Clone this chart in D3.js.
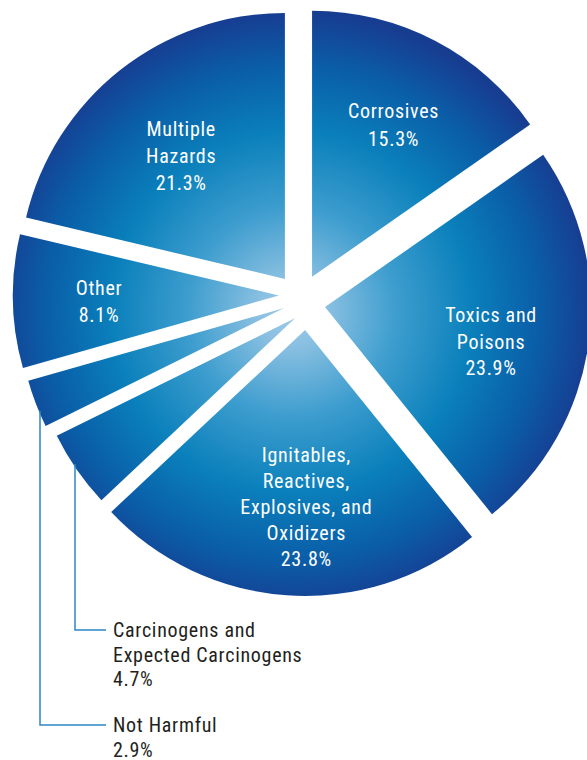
<!DOCTYPE html>
<html>
<head>
<meta charset="utf-8">
<script src="https://cdn.jsdelivr.net/npm/d3@7"></script>
<style>
  html, body { margin: 0; padding: 0; background: #fff; }
  svg { display: block; }
  .lbl { font-family: "Roboto Condensed", "Liberation Sans Narrow", "DejaVu Sans Condensed", sans-serif; font-size: 20px; letter-spacing: 0.7px; }
</style>
</head>
<body>
<svg id="chart" width="587" height="760"></svg>
<script>
// Hazard categories, clockwise from twelve o'clock
const categories = [
  "Corrosives",
  "Toxics and Poisons",
  "Ignitables, Reactives, Explosives, and Oxidizers",
  "Carcinogens and Expected Carcinogens",
  "Not Harmful",
  "Other",
  "Multiple Hazards"
];
// Share of each category, percent
const shares = [15.3, 23.9, 23.8, 4.7, 2.9, 8.1, 21.3];
// Text lines for each label (value line appended when drawn)
const labelLines = [
  ["Corrosives"],
  ["Toxics and", "Poisons"],
  ["Ignitables,", "Reactives,", "Explosives, and", "Oxidizers"],
  ["Carcinogens and", "Expected Carcinogens"],
  ["Not Harmful"],
  ["Other"],
  ["Multiple", "Hazards"]
];
// Slices whose labels sit outside with leader lines
const outsideLabels = ["Carcinogens and Expected Carcinogens", "Not Harmful"];

// ---- layout / style ----
const cx = 300, cy = 302, R = 266;
// each wedge is pulled away from the hub: along its bisector, and a little sideways
const explodeAlong  = [28, 25.5, 27.5, 13, 17, 21, 27.5];
const explodeAcross = [-1, 1.5, -7, -10.5, 0, 7, 2.5];
const gradCenter = [292, 312], gradR = 300;
const labelR = 198;                                  // label distance from the hub
const labelNudge = [[2, -1], [-5, 12], [20, 7], [0, 0], [0, 0], [-3, -5], [4, 9]];
const lineH = [28, 26.5, 26, 0, 0, 27, 27];
const leaderX = { "Carcinogens and Expected Carcinogens": 75, "Not Harmful": 40 };
const leaderY = { "Carcinogens and Expected Carcinogens": 630, "Not Harmful": 725 };
const leaderEndX = 106, outsideTextX = 113, outsideLineH = 24.5;

const svg = d3.select("#chart");
const defs = svg.append("defs");
const stops = [
  [0.00, "#a0cce8"],
  [0.12, "#88bfe1"],
  [0.35, "#3d9dce"],
  [0.60, "#0a80bb"],
  [0.82, "#0a5ea8"],
  [1.00, "#173d91"]
];

const pie = d3.pie().sort(null).value(d => d)(shares);
const arc = d3.arc().innerRadius(0).outerRadius(R);

const slices = pie.map((p, i) => {
  const mid = (p.startAngle + p.endAngle) / 2;
  const ux = Math.sin(mid), uy = -Math.cos(mid);   // outward
  const vx = Math.cos(mid), vy = Math.sin(mid);    // clockwise sideways
  return {
    p, i, mid,
    ox: cx + explodeAlong[i] * ux + explodeAcross[i] * vx,
    oy: cy + explodeAlong[i] * uy + explodeAcross[i] * vy
  };
});

// one radial gradient per wedge, all anchored to the same page point
slices.forEach(s => {
  const gr = defs.append("radialGradient")
    .attr("id", "blueFill" + s.i)
    .attr("gradientUnits", "userSpaceOnUse")
    .attr("cx", gradCenter[0] - s.ox).attr("cy", gradCenter[1] - s.oy)
    .attr("r", gradR);
  stops.forEach(([o, c]) => gr.append("stop").attr("offset", o).attr("stop-color", c));
});

svg.append("g")
  .selectAll("path.slice")
  .data(slices)
  .join("path")
  .attr("class", "slice")
  .attr("d", s => arc(s.p))
  .attr("transform", s => `translate(${s.ox},${s.oy})`)
  .attr("fill", s => `url(#blueFill${s.i})`);

const pct = v => d3.format(".1f")(v) + "%";

// inside labels
slices.forEach(s => {
  const name = categories[s.i];
  if (outsideLabels.includes(name)) return;
  const lx = cx + labelR * Math.sin(s.mid) + labelNudge[s.i][0];
  const ly = cy - labelR * Math.cos(s.mid) + labelNudge[s.i][1];
  const lines = labelLines[s.i].concat([pct(shares[s.i])]);
  const lh = lineH[s.i];
  const first = ly - (lines.length - 1) * lh / 2 + 7;
  const t = svg.append("text").attr("class", "lbl").attr("fill", "#fff")
    .attr("text-anchor", "middle");
  lines.forEach((ln, k) => {
    t.append("tspan").attr("x", lx).attr("y", first + k * lh).text(ln);
  });
});

// outside labels with leader lines dropping from the wedge rim
slices.forEach(s => {
  const name = categories[s.i];
  if (!outsideLabels.includes(name)) return;
  const x = leaderX[name];
  const dx = x - s.ox;
  const yRim = s.oy + Math.sqrt(Math.max(0, R * R - dx * dx));
  const yTurn = leaderY[name];
  svg.append("path")
    .attr("d", `M${x},${yRim - 3}V${yTurn}H${leaderEndX}`)
    .attr("fill", "none")
    .attr("stroke", "#2b86c4")
    .attr("stroke-width", 1.5);
  const lines = labelLines[s.i].concat([pct(shares[s.i])]);
  const t = svg.append("text").attr("class", "lbl").attr("fill", "#231f20");
  lines.forEach((ln, k) => {
    t.append("tspan").attr("x", outsideTextX).attr("y", yTurn + 7 + k * outsideLineH).text(ln);
  });
});
</script>
</body>
</html>
